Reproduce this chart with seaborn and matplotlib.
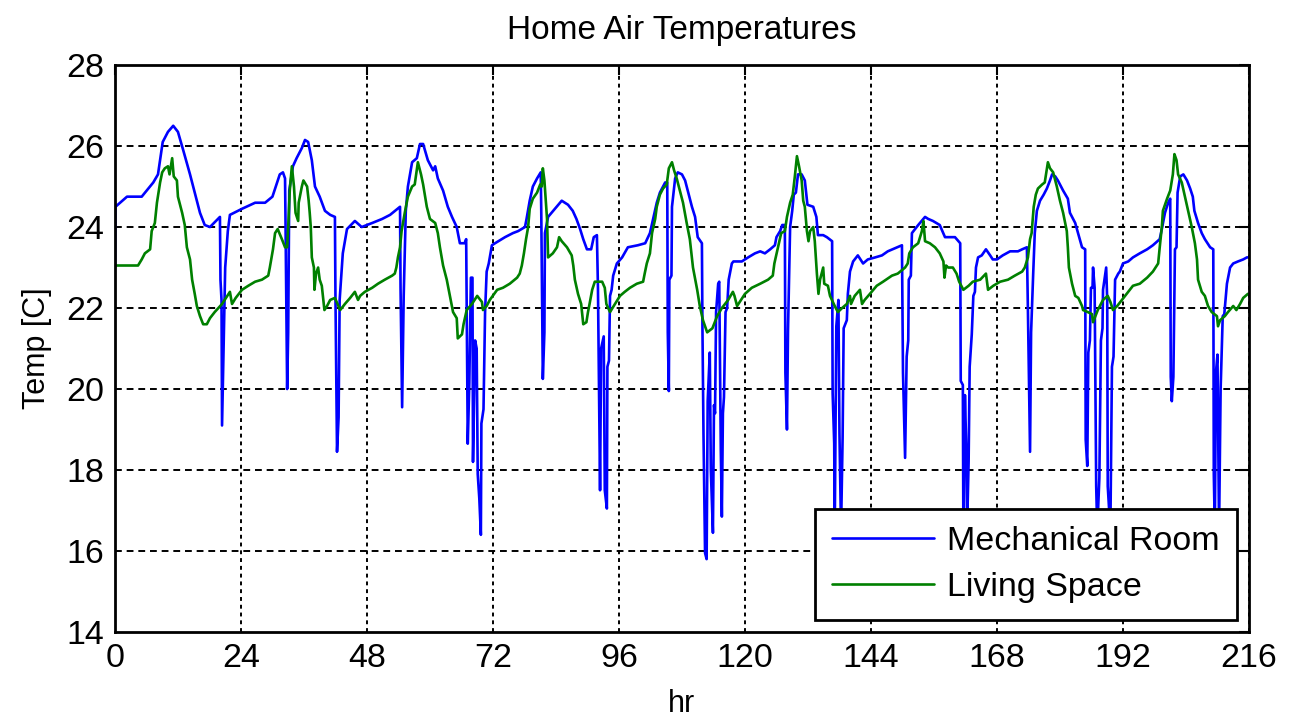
import numpy as np
import pandas as pd
import matplotlib
matplotlib.use("Agg")
import matplotlib.pyplot as plt
import seaborn as sns

# ---- Data ---------------------------------------------------------------
mech_hr = [0, 0.1, 2.3, 5.1, 7.3, 8.2, 9.1, 10.1, 11.1, 12.0, 13.0, 14.3, 15.2, 16.2, 17.1, 18.1,
           20.0, 20.1, 20.3, 20.4, 20.7, 21.0, 21.5, 21.9, 24.2, 26.7, 28.6, 30.0, 30.9, 31.4,
           32.0, 32.4, 32.5, 32.8, 33.0, 33.2, 33.9, 34.6, 35.6, 36.2, 36.8, 37.5, 38.1, 39.0,
           40.0, 41.0, 41.9, 42.0, 42.3, 42.6, 42.8, 43.4, 44.2, 45.7, 47.0, 49.0, 50.9, 52.4,
           54.3, 54.4, 54.7, 55.0, 55.4, 55.8, 56.6, 57.5, 58.1, 58.7, 59.6, 60.6, 61.0, 61.5,
           62.5, 63.4, 64.2, 65.1, 65.7, 66.6, 66.9, 67.0, 67.2, 67.5, 67.8, 68.1, 68.2, 68.6,
           68.9, 69.1, 69.4, 69.7, 69.8, 70.2, 70.5, 70.8, 71.2, 71.8, 72.4, 74.3, 75.8, 76.8,
           78.1, 78.4, 79.0, 79.6, 80.4, 81.1, 81.2, 81.5, 81.8, 81.9, 82.5, 83.8, 85.1, 86.3,
           87.2, 87.9, 88.6, 89.2, 89.9, 90.7, 91.2, 91.8, 92.0, 92.4, 92.6, 93.1, 93.3, 93.7,
           93.8, 94.1, 94.3, 94.6, 94.9, 95.6, 96.6, 97.7, 99.6, 101.0, 101.9, 102.5, 103.2,
           103.8, 104.8, 105.2, 105.3, 105.5, 105.6, 106.0, 106.1, 106.7, 107.2, 108.0, 108.6,
           109.1, 109.9, 110.5, 111.0, 111.8, 111.9, 112.1, 112.4, 112.7, 112.9, 113.3, 113.5,
           113.9, 114.1, 114.3, 114.5, 114.9, 115.1, 115.4, 115.6, 115.8, 116.0, 116.3, 116.6,
           116.9, 117.5, 117.8, 119.4, 120.6, 121.9, 122.9, 123.8, 124.8, 125.7, 126.0, 126.7,
           127.1, 127.6, 127.7, 128.0, 128.2, 128.6, 129.0, 129.3, 129.7, 130.1, 130.8, 131.4,
           131.9, 133.0, 133.6, 133.9, 134.9, 135.6, 136.6, 136.7, 137.0, 137.1, 137.4, 137.8,
           138.0, 138.3, 138.6, 138.8, 139.4, 139.6, 140.0, 140.6, 141.5, 142.5, 143.4, 144.8,
           146.1, 147.2, 149.0, 149.9, 150.1, 150.5, 150.8, 151.1, 151.2, 151.6, 151.8, 152.4,
           153.0, 154.3, 154.9, 155.8, 157.1, 158.1, 160.0, 161.0, 161.1, 161.5, 161.6, 161.9,
           162.2, 162.3, 162.6, 162.8, 163.2, 163.5, 163.8, 164.0, 164.4, 165.1, 165.9, 166.7,
           167.2, 168.0, 169.1, 170.5, 172.0, 172.8, 173.7, 173.9, 174.3, 174.5, 174.9, 175.2,
           175.6, 176.2, 176.9, 177.5, 178.1, 178.5, 179.1, 179.6, 180.6, 181.5, 181.9, 182.9,
           184.2, 184.8, 184.9, 185.2, 185.4, 185.7, 185.9, 186.2, 186.3, 186.6, 186.9, 187.1,
           187.5, 187.8, 188.1, 188.2, 188.8, 189.0, 189.1, 189.6, 189.9, 190.2, 190.5, 191.1,
           191.4, 192.0, 193.0, 193.9, 195.2, 196.6, 197.7, 199.0, 199.4, 200.0, 200.6, 201.0,
           201.1, 201.3, 201.6, 201.9, 202.2, 202.4, 202.9, 203.5, 204.2, 204.8, 205.3, 205.6,
           206.3, 207.0, 207.6, 208.6, 209.2, 209.3, 209.5, 209.7, 210.0, 210.3, 210.5, 210.6,
           211.0, 211.3, 211.8, 212.4, 213.0, 213.9, 214.9, 215.6, 216.0]
mech_temp = [23.0, 24.5, 24.75, 24.75, 25.1, 25.3, 26.1, 26.35, 26.5, 26.35, 25.9, 25.3, 24.85,
             24.35, 24.05, 24.0, 24.25, 22.7, 22.2, 19.1, 21.0, 23.0, 23.9, 24.3, 24.45, 24.6,
             24.6, 24.75, 25.1, 25.3, 25.35, 25.2, 24.0, 20.0, 21.4, 24.9, 25.5, 25.7, 25.95,
             26.15, 26.1, 25.65, 25.0, 24.75, 24.4, 24.3, 24.25, 22.3, 18.45, 19.3, 22.2, 23.35,
             23.95, 24.15, 24.0, 24.1, 24.2, 24.3, 24.5, 22.5, 19.55, 22.3, 24.4, 25.0, 25.6,
             25.7, 26.05, 26.05, 25.65, 25.4, 25.5, 25.2, 24.9, 24.5, 24.25, 24.0, 23.6, 23.6,
             23.7, 21.9, 18.65, 20.15, 22.75, 22.75, 18.2, 21.2, 21.0, 17.9, 17.3, 16.4, 19.15,
             19.5, 21.9, 22.9, 23.1, 23.55, 23.6, 23.75, 23.85, 23.9, 24.0, 24.2, 24.65, 25.0,
             25.2, 25.35, 24.4, 20.25, 21.4, 23.85, 24.25, 24.45, 24.65, 24.55, 24.4, 24.2,
             23.95, 23.7, 23.45, 23.45, 23.75, 23.8, 22.5, 17.5, 21.0, 21.3, 17.5, 17.05, 20.55,
             20.7, 22.3, 22.45, 22.8, 23.1, 23.25, 23.5, 23.55, 23.6, 23.85, 24.2, 24.6, 24.85,
             25.1, 25.1, 21.4, 19.95, 22.7, 22.8, 24.5, 25.2, 25.35, 25.3, 25.15, 24.9, 24.5,
             24.25, 23.75, 23.6, 21.55, 18.9, 15.95, 15.8, 19.7, 20.9, 18.0, 16.45, 19.6, 19.4,
             21.9, 22.6, 22.65, 18.5, 16.85, 19.4, 19.8, 21.9, 22.0, 22.7, 23.1, 23.15, 23.15,
             23.25, 23.35, 23.4, 23.35, 23.45, 23.55, 23.75, 23.9, 24.05, 24.05, 20.4, 19.0,
             21.45, 24.0, 24.4, 24.8, 24.85, 25.3, 25.3, 25.15, 24.55, 24.5, 24.25, 23.8, 23.8,
             23.75, 23.65, 19.9, 18.65, 16.5, 21.55, 22.2, 18.9, 16.5, 18.8, 21.5, 21.7, 22.35,
             22.9, 23.15, 23.3, 23.1, 23.2, 23.25, 23.3, 23.4, 23.5, 23.55, 20.4, 18.3, 20.8,
             21.2, 22.7, 22.8, 23.85, 23.95, 24.05, 24.25, 24.2, 24.15, 24.05, 23.75, 23.75,
             23.6, 20.2, 20.1, 16.5, 19.85, 18.3, 16.5, 18.2, 20.55, 21.35, 22.3, 22.4, 23.0,
             23.25, 23.3, 23.45, 23.3, 23.2, 23.2, 23.3, 23.4, 23.4, 23.45, 23.5, 21.9, 18.45,
             21.4, 22.85, 23.85, 24.4, 24.65, 24.8, 24.95, 25.15, 25.3, 25.25, 25.15, 24.9,
             24.7, 24.35, 24.1, 23.5, 23.45, 18.75, 18.1, 20.9, 21.2, 22.5, 22.5, 23.0, 22.5,
             17.6, 16.5, 17.8, 21.2, 21.5, 22.45, 23.0, 22.2, 17.6, 16.5, 20.55, 20.8, 22.7,
             22.85, 22.9, 23.1, 23.15, 23.25, 23.35, 23.45, 23.55, 23.7, 23.95, 24.35, 24.6,
             24.7, 20.3, 19.7, 20.3, 23.45, 23.5, 24.85, 25.25, 25.3, 25.15, 24.95, 24.75, 24.4,
             24.1, 23.85, 23.7, 23.5, 23.45, 17.9, 16.5, 20.4, 20.85, 16.5, 18.9, 20.0, 21.8,
             21.85, 22.6, 23.0, 23.1, 23.15, 23.2, 23.25, 23.25]

living_hr = [0, 4.4, 5.1, 5.7, 6.7, 7.0, 7.6, 8.0, 8.6, 9.0, 9.5, 10.1, 10.4, 10.9, 11.2, 11.8,
             12.0, 12.8, 13.3, 13.7, 14.3, 14.7, 15.2, 15.6, 16.2, 16.8, 17.5, 18.1, 19.0, 20.4,
             21.9, 22.3, 23.0, 24.2, 25.4, 26.7, 28.0, 29.2, 29.5, 30.1, 30.5, 31.0, 31.8, 32.4,
             32.8, 33.0, 33.3, 33.7, 34.1, 34.4, 34.9, 35.0, 35.6, 35.9, 36.6, 36.9, 37.1, 37.3,
             37.5, 37.9, 38.0, 38.3, 38.7, 39.0, 39.4, 39.7, 39.9, 40.4, 41.0, 41.9, 42.9, 43.8,
             44.8, 45.7, 46.3, 46.7, 47.6, 49.0, 50.1, 51.4, 52.8, 53.3, 53.6, 53.9, 54.3, 54.6,
             55.2, 55.8, 56.6, 57.1, 57.7, 58.3, 58.7, 59.4, 60.0, 61.0, 61.5, 61.9, 62.5, 63.2,
             63.8, 64.4, 65.1, 65.3, 66.1, 66.4, 67.0, 68.0, 69.0, 69.9, 70.1, 70.8, 71.4, 72.8,
             73.9, 75.2, 76.6, 77.1, 77.5, 77.9, 78.3, 78.7, 79.0, 79.6, 80.4, 81.0, 81.3, 81.5,
             81.8, 82.3, 82.5, 83.4, 84.2, 84.6, 85.1, 86.1, 87.0, 87.3, 87.6, 88.2, 88.8, 89.2,
             89.8, 90.1, 90.4, 90.9, 91.4, 92.8, 93.3, 93.6, 94.3, 95.0, 96.2, 97.1, 98.1, 99.4,
             100.6, 100.9, 101.3, 101.9, 102.3, 102.9, 103.2, 103.8, 104.4, 105.1, 105.5, 106.1,
             106.5, 107.0, 107.6, 108.2, 108.9, 109.5, 110.1, 110.9, 111.4, 112.0, 112.8, 113.8,
             114.7, 115.6, 116.8, 117.7, 118.0, 118.5, 119.0, 120.0, 121.3, 122.9, 124.4, 125.3,
             125.6, 126.3, 126.9, 127.6, 128.0, 128.6, 129.1, 129.5, 129.9, 130.3, 130.8, 131.1,
             131.4, 131.8, 132.1, 132.4, 133.0, 133.3, 133.7, 134.0, 134.3, 134.9, 135.1, 135.8,
             136.2, 137.1, 137.7, 138.5, 139.4, 140.0, 140.2, 140.9, 141.9, 142.3, 142.8, 143.8,
             145.1, 146.3, 148.0, 149.1, 150.5, 151.0, 151.3, 152.0, 153.0, 153.7, 154.0, 154.3,
             155.2, 156.2, 157.1, 157.8, 158.0, 158.3, 158.7, 159.6, 160.3, 160.8, 161.6, 162.6,
             163.4, 164.8, 165.9, 166.3, 167.3, 168.6, 170.1, 171.4, 172.8, 173.3, 173.9, 174.3,
             174.6, 175.0, 175.4, 175.8, 176.6, 177.1, 177.7, 178.1, 178.7, 179.4, 180.0, 180.6,
             181.3, 181.5, 181.7, 182.3, 182.9, 183.5, 184.2, 184.4, 185.3, 186.1, 186.3, 187.2,
             188.2, 189.1, 189.6, 190.1, 190.9, 191.8, 192.7, 193.9, 195.2, 196.6, 197.7, 198.7,
             199.0, 199.4, 199.6, 200.4, 201.0, 201.5, 201.8, 202.2, 202.5, 203.2, 203.8, 204.4,
             205.1, 205.7, 206.1, 206.3, 207.0, 207.6, 208.2, 208.9, 209.9, 210.1, 210.5, 211.4,
             212.0, 213.0, 213.6, 214.3, 214.9, 215.8, 216.0]
living_temp = [23.05, 23.05, 23.2, 23.35, 23.45, 23.9, 24.1, 24.6, 25.1, 25.35, 25.45, 25.5, 25.3,
               25.7, 25.25, 25.15, 24.75, 24.35, 24.05, 23.5, 23.2, 22.7, 22.35, 22.05, 21.8,
               21.6, 21.6, 21.75, 21.9, 22.1, 22.4, 22.1, 22.25, 22.45, 22.55, 22.65, 22.7,
               22.8, 23.0, 23.45, 23.85, 23.95, 23.7, 23.5, 23.5, 24.0, 24.9, 25.5, 25.0, 24.35,
               24.15, 24.6, 25.0, 25.15, 25.0, 24.65, 24.35, 24.0, 23.25, 23.0, 22.45, 22.85,
               23.0, 22.7, 22.55, 22.2, 21.95, 22.05, 22.2, 22.25, 21.95, 22.1, 22.25, 22.4,
               22.2, 22.3, 22.4, 22.5, 22.6, 22.7, 22.8, 22.85, 23.0, 23.25, 23.5, 23.9, 24.35,
               24.75, 25.0, 25.05, 25.6, 25.3, 25.05, 24.5, 24.2, 24.1, 23.85, 23.5, 23.05, 22.7,
               22.3, 21.9, 21.75, 21.25, 21.35, 21.6, 21.95, 22.1, 22.3, 22.15, 21.95, 22.05,
               22.2, 22.45, 22.5, 22.6, 22.75, 22.85, 23.05, 23.35, 23.7, 24.0, 24.45, 24.7,
               24.85, 25.05, 25.0, 25.45, 25.15, 24.2, 23.25, 23.35, 23.5, 23.75, 23.65, 23.5,
               23.3, 23.05, 22.7, 22.35, 22.1, 21.6, 21.65, 21.9, 22.1, 22.45, 22.65, 22.65,
               22.5, 22.1, 21.9, 22.05, 22.3, 22.4, 22.5, 22.6, 22.65, 22.85, 23.1, 23.35, 23.85,
               24.2, 24.5, 24.8, 24.95, 25.05, 25.45, 25.6, 25.4, 25.2, 24.9, 24.6, 24.1, 23.7,
               23.0, 22.45, 22.05, 21.7, 21.4, 21.5, 21.8, 22.0, 22.2, 22.4, 22.3, 22.05, 22.15,
               22.35, 22.5, 22.6, 22.7, 22.8, 23.1, 23.5, 23.85, 23.9, 24.25, 24.6, 24.8, 25.25,
               25.75, 25.5, 25.15, 24.65, 24.5, 23.9, 23.65, 23.9, 24.0, 23.65, 22.85, 22.35,
               22.7, 23.0, 22.6, 22.55, 22.3, 22.05, 21.9, 22.0, 22.1, 22.3, 22.1, 22.3, 22.45,
               22.1, 22.2, 22.35, 22.55, 22.65, 22.8, 22.85, 23.0, 23.1, 23.35, 23.5, 23.6, 23.9,
               24.15, 23.65, 23.6, 23.5, 23.35, 23.15, 22.75, 23.05, 23.0, 23.0, 22.85, 22.65,
               22.45, 22.55, 22.65, 22.7, 22.85, 22.45, 22.55, 22.65, 22.7, 22.8, 22.9, 23.0,
               23.25, 23.7, 23.85, 24.5, 24.8, 24.95, 25.05, 25.1, 25.6, 25.45, 25.35, 25.0,
               24.65, 24.35, 23.9, 23.5, 23.0, 22.6, 22.3, 22.25, 22.05, 21.95, 21.9, 21.85,
               21.65, 21.95, 22.2, 22.3, 22.15, 21.95, 22.05, 22.2, 22.35, 22.55, 22.6, 22.75,
               22.9, 23.1, 23.5, 24.0, 24.4, 24.7, 24.9, 25.3, 25.8, 25.65, 25.3, 25.1, 24.75,
               24.4, 24.0, 23.6, 23.2, 22.7, 22.4, 22.3, 22.05, 21.9, 21.8, 21.55, 21.7, 21.8,
               21.9, 22.05, 21.95, 22.1, 22.25, 22.35, 22.35]

series_names = ["Mechanical Room", "Living Space"]
series_colors = ["#0000FF", "#008000"]
x_ticks = [0, 24, 48, 72, 96, 120, 144, 168, 192, 216]
y_ticks = [14, 16, 18, 20, 22, 24, 26, 28]

# ---- Figure ---------------------------------------------------------------
sns.set_style("white")
plt.rcParams["font.family"] = ["Liberation Sans", "DejaVu Sans"]
plt.rcParams["text.color"] = "black"
plt.rcParams["axes.labelcolor"] = "black"

fig = plt.figure(figsize=(12.9, 7.21), dpi=100)
ax = fig.add_axes([0.0891, 0.1234, 0.8791, 0.7864])

frames = [
    pd.DataFrame({"hr": mech_hr, "temp": mech_temp, "zone": series_names[0]}),
    pd.DataFrame({"hr": living_hr, "temp": living_temp, "zone": series_names[1]}),
]
data = pd.concat(frames, ignore_index=True)

sns.lineplot(data=data, x="hr", y="temp", hue="zone", palette=series_colors,
             hue_order=series_names, estimator=None, sort=False, linewidth=1.9,
             ax=ax, legend=True)

ax.set_xlim(0, 216)
ax.set_ylim(14, 28)
ax.set_xticks(x_ticks)
ax.set_yticks(y_ticks)

# dotted grid in black
for yv in y_ticks[1:-1]:
    ax.axhline(yv, color="black", lw=1.4, linestyle=(0, (3.5, 2.5)), zorder=0.5)
for xv in x_ticks[1:]:
    ax.axvline(xv, color="black", lw=1.4, linestyle=(0, (2, 2)), zorder=0.5)

for side in ["left", "right", "top", "bottom"]:
    ax.spines[side].set_visible(True)
    ax.spines[side].set_color("black")
    ax.spines[side].set_linewidth(2.0)

ax.tick_params(axis="both", which="major", direction="in", length=7, width=1.5,
               top=True, right=True, labelsize=24.5, pad=8, colors="black")

ax.set_title("Home Air Temperatures", fontsize=24, pad=19, color="black")
ax.set_xlabel("hr", fontsize=22, labelpad=11, color="black")
ax.set_ylabel("Temp [C]", fontsize=22, labelpad=10, color="black")

leg = ax.legend(loc="lower right", fontsize=24.5, frameon=True, fancybox=False,
                edgecolor="black", framealpha=1.0, handlelength=3.0,
                handletextpad=0.4, labelspacing=0.45, borderpad=0.5,
                borderaxespad=0.35, title=None)
leg.get_frame().set_linewidth(2.0)
for line in leg.get_lines():
    line.set_linewidth(1.9)
for txt in leg.get_texts():
    txt.set_color("black")

fig.savefig("out.png", dpi=100, facecolor="white")
